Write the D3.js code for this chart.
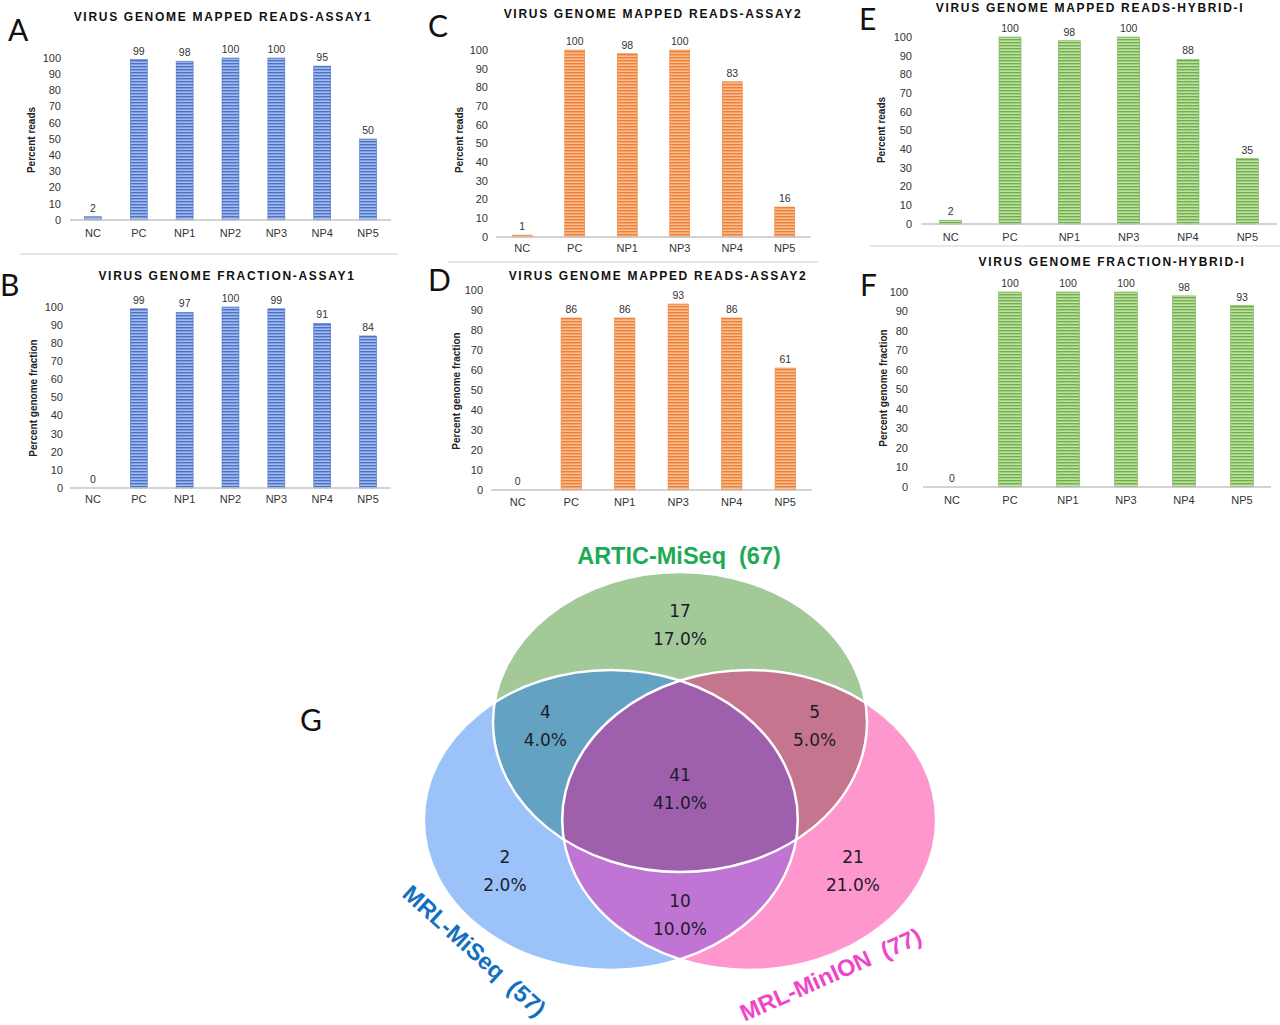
<!DOCTYPE html>
<html>
<head>
<meta charset="utf-8">
<script src="https://cdn.jsdelivr.net/npm/d3@7"></script>
<style>
    body { margin: 0; background: #fff; }
    svg { display: block; font-family: 'Liberation Sans', Arial, sans-serif; }
    .panel-letter { font-family: Lato, 'Open Sans', sans-serif; font-size: 30px; fill: #111; }
    .bar-title { font-weight: bold; font-size: 12px; letter-spacing: 1.7px; fill: #111; }
    .tick-label, .cat-label { font-size: 11px; fill: #333; }
    .value-label { font-size: 10.5px; fill: #333; }
    .y-title { font-weight: bold; font-size: 10px; fill: #222; }
    .venn-num { font-family: 'DejaVu Sans', sans-serif; font-size: 17px; fill: #1c1c2a; }
    .venn-set { font-weight: bold; font-size: 23.5px; }
</style>
</head>
<body>
<div id="wrapper"></div>
<script>
// data
const categoriesAssay1 = ['NC', 'PC', 'NP1', 'NP2', 'NP3', 'NP4', 'NP5']
const categoriesOther = ['NC', 'PC', 'NP1', 'NP3', 'NP4', 'NP5']
const readsAssay1 = [2, 99, 98, 100, 100, 95, 50]
const fractionAssay1 = [0, 99, 97, 100, 99, 91, 84]
const readsAssay2 = [1, 100, 98, 100, 83, 16]
const fractionAssay2 = [0, 86, 86, 93, 86, 61]
const readsHybrid = [2, 100, 98, 100, 88, 35]
const fractionHybrid = [0, 100, 100, 100, 98, 93]
const yTickValues = [0, 10, 20, 30, 40, 50, 60, 70, 80, 90, 100]

const vennSetNames = ['ARTIC-MiSeq', 'MRL-MiSeq', 'MRL-MinION']
const vennSetTotals = [67, 57, 77]
const vennRegionKeys = ['A', 'AB', 'AC', 'ABC', 'B', 'BC', 'C']
const vennRegionCounts = [17, 4, 5, 41, 2, 10, 21]

function drawFigure() {

    const width = 1280
    const height = 1025

    const svg = d3.select('#wrapper')
        .append('svg')
        .attr('width', width)
        .attr('height', height)

    const defs = svg.append('defs')

    //#region stripe patterns (excel-like narrow horizontal)
    const palettes = {
        blue: { fg: '#4a73c8', bg: '#a4b9ec' },
        orange: { fg: '#ee7f33', bg: '#f8bd93' },
        green: { fg: '#72ae49', bg: '#bce2a6' },
    }
    Object.entries(palettes).forEach(([name, p]) => {
        let pat = defs.append('pattern')
            .attr('id', 'stripe-' + name)
            .attr('patternUnits', 'userSpaceOnUse')
            .attr('width', 6).attr('height', 3)
        pat.append('rect').attr('width', 6).attr('height', 3).attr('fill', p.bg)
        pat.append('rect').attr('width', 6).attr('height', 1.4).attr('fill', p.fg)
    })
    //#endregion

    //#region bar panels
    const panels = [
        {
            letter: 'A', letterX: 8, letterY: 41,
            title: 'VIRUS GENOME MAPPED READS-ASSAY1', titleX: 223, titleY: 21,
            cats: categoriesAssay1, values: readsAssay1, color: 'blue',
            x0: 70, x1: 391, yBottom: 220, yTop: 58, pad: 0.63,
            tickX: 61, yTitle: 'Percent reads', yTitleX: 35, yTitleY: 140, catY: 237
        },
        {
            letter: 'B', letterX: 0, letterY: 296,
            title: 'VIRUS GENOME FRACTION-ASSAY1', titleX: 227, titleY: 280,
            cats: categoriesAssay1, values: fractionAssay1, color: 'blue',
            x0: 70, x1: 391, yBottom: 488, yTop: 307, pad: 0.63,
            tickX: 63, yTitle: 'Percent genome fraction', yTitleX: 37, yTitleY: 398, catY: 503
        },
        {
            letter: 'C', letterX: 428, letterY: 37,
            title: 'VIRUS GENOME MAPPED READS-ASSAY2', titleX: 653, titleY: 18,
            cats: categoriesOther, values: readsAssay2, color: 'orange',
            x0: 496, x1: 811, yBottom: 237, yTop: 50, pad: 0.62,
            tickX: 488, yTitle: 'Percent reads', yTitleX: 463, yTitleY: 140, catY: 252
        },
        {
            letter: 'D', letterX: 428, letterY: 291,
            title: 'VIRUS GENOME MAPPED READS-ASSAY2', titleX: 658, titleY: 280,
            cats: categoriesOther, values: fractionAssay2, color: 'orange',
            x0: 491, x1: 812, yBottom: 490, yTop: 290, pad: 0.62,
            tickX: 483, yTitle: 'Percent genome fraction', yTitleX: 460, yTitleY: 391, catY: 506
        },
        {
            letter: 'E', letterX: 859, letterY: 30,
            title: 'VIRUS GENOME MAPPED READS-HYBRID-I', titleX: 1090, titleY: 12,
            cats: categoriesOther, values: readsHybrid, color: 'green',
            x0: 921, x1: 1277, yBottom: 224, yTop: 37, pad: 0.63,
            tickX: 912, yTitle: 'Percent reads', yTitleX: 885, yTitleY: 130, catY: 241
        },
        {
            letter: 'F', letterX: 860, letterY: 296,
            title: 'VIRUS GENOME FRACTION-HYBRID-I', titleX: 1112, titleY: 266,
            cats: categoriesOther, values: fractionHybrid, color: 'green',
            x0: 923, x1: 1271, yBottom: 487, yTop: 292, pad: 0.61,
            tickX: 908, yTitle: 'Percent genome fraction', yTitleX: 887, yTitleY: 388, catY: 504
        },
    ]

    panels.forEach(drawPanel)

    function drawPanel(p) {
        const g = svg.append('g').attr('class', 'panel-' + p.letter)

        const xScale = d3.scaleBand()
            .domain(p.cats)
            .range([p.x0, p.x1])
            .paddingInner(p.pad)
            .paddingOuter(p.pad / 2)

        const yScale = d3.scaleLinear()
            .domain([0, 100])
            .range([p.yBottom, p.yTop])

        const rows = p.cats.map((c, i) => ({ cat: c, value: p.values[i] }))

        g.append('text')
            .attr('class', 'panel-letter')
            .attr('x', p.letterX).attr('y', p.letterY)
            .text(p.letter)

        g.append('text')
            .attr('class', 'bar-title')
            .attr('x', p.titleX).attr('y', p.titleY)
            .attr('text-anchor', 'middle')
            .text(p.title)

        // y tick labels only, no axis line
        g.selectAll('.tick-label')
            .data(yTickValues)
            .enter().append('text')
            .attr('class', 'tick-label')
            .attr('x', p.tickX)
            .attr('y', d => yScale(d))
            .attr('dy', '0.35em')
            .attr('text-anchor', 'end')
            .text(d => d)

        g.append('text')
            .attr('class', 'y-title')
            .attr('transform', `translate(${p.yTitleX},${p.yTitleY}) rotate(-90)`)
            .attr('text-anchor', 'middle')
            .text(p.yTitle)

        g.selectAll('.bar')
            .data(rows)
            .enter().append('rect')
            .attr('class', 'bar')
            .attr('x', d => xScale(d.cat))
            .attr('y', d => yScale(d.value))
            .attr('width', xScale.bandwidth())
            .attr('height', d => yScale(0) - yScale(d.value))
            .attr('fill', `url(#stripe-${p.color})`)
            .attr('stroke', palettes[p.color].fg)
            .attr('stroke-width', d => d.value > 0 ? 0.6 : 0)

        g.append('line')
            .attr('x1', p.x0).attr('x2', p.x1)
            .attr('y1', yScale(0)).attr('y2', yScale(0))
            .attr('stroke', '#c4c4c4')
            .attr('stroke-width', 1.5)

        g.selectAll('.value-label')
            .data(rows)
            .enter().append('text')
            .attr('class', 'value-label')
            .attr('x', d => xScale(d.cat) + xScale.bandwidth() / 2)
            .attr('y', d => yScale(d.value) - 5)
            .attr('text-anchor', 'middle')
            .text(d => d.value)

        g.selectAll('.cat-label')
            .data(p.cats)
            .enter().append('text')
            .attr('class', 'cat-label')
            .attr('x', d => xScale(d) + xScale.bandwidth() / 2)
            .attr('y', p.catY)
            .attr('text-anchor', 'middle')
            .text(d => d)
    }

    // thin separators between the stacked panels
    const separators = [[20, 398, 254], [448, 818, 262], [870, 1280, 246]]
    svg.selectAll('.separator')
        .data(separators)
        .enter().append('line')
        .attr('class', 'separator')
        .attr('x1', d => d[0]).attr('x2', d => d[1])
        .attr('y1', d => d[2]).attr('y2', d => d[2])
        .attr('stroke', '#d0d0d0')
        .attr('stroke-width', 1.2)
    //#endregion

    //#region venn diagram (G)
    const xVenn = d3.scaleLinear().domain([-1, 1]).range([493, 867])
    const yVenn = d3.scaleLinear().domain([-1, 1]).range([637, 937])
    const rx = xVenn(1) - xVenn(0)
    const ry = yVenn(1) - yVenn(0)

    const circleCenters = { A: [0, -0.433], B: [-0.37, 0.22], C: [0.37, 0.22] }
    const regionColors = {
        A: '#a3c999', B: '#9cc3f9', C: '#fe97cd',
        AB: '#63a2c2', AC: '#c6758f', BC: '#c075d4', ABC: '#9e60ac'
    }
    const regionLabelPos = {
        A: [0, -1.08], AB: [-0.72, -0.41], AC: [0.72, -0.41], ABC: [0, 0.013],
        B: [-0.936, 0.56], BC: [0, 0.853], C: [0.925, 0.56]
    }

    const venn = svg.append('g').attr('class', 'venn')

    function addEllipse(sel, key) {
        return sel.append('ellipse')
            .attr('cx', xVenn(circleCenters[key][0]))
            .attr('cy', yVenn(circleCenters[key][1]))
            .attr('rx', rx)
            .attr('ry', ry)
    }

    ;['A', 'B', 'C'].forEach(k => {
        addEllipse(defs.append('clipPath').attr('id', 'clip-' + k), k)
    })

    ;['A', 'B', 'C'].forEach(k => addEllipse(venn, k).attr('fill', regionColors[k]))
    addEllipse(venn.append('g').attr('clip-path', 'url(#clip-A)'), 'B').attr('fill', regionColors.AB)
    addEllipse(venn.append('g').attr('clip-path', 'url(#clip-A)'), 'C').attr('fill', regionColors.AC)
    addEllipse(venn.append('g').attr('clip-path', 'url(#clip-B)'), 'C').attr('fill', regionColors.BC)
    addEllipse(venn.append('g').attr('clip-path', 'url(#clip-A)')
        .append('g').attr('clip-path', 'url(#clip-B)'), 'C').attr('fill', regionColors.ABC)
    ;['A', 'B', 'C'].forEach(k => addEllipse(venn, k)
        .attr('fill', 'none').attr('stroke', '#fff').attr('stroke-width', 2.5))

    const total = d3.sum(vennRegionCounts)
    vennRegionKeys.forEach((k, i) => {
        let [ux, uy] = regionLabelPos[k]
        venn.append('text')
            .attr('class', 'venn-num')
            .attr('x', xVenn(ux)).attr('y', yVenn(uy) - 8)
            .attr('text-anchor', 'middle')
            .text(vennRegionCounts[i])
        venn.append('text')
            .attr('class', 'venn-num')
            .attr('x', xVenn(ux)).attr('y', yVenn(uy) + 20)
            .attr('text-anchor', 'middle')
            .text((vennRegionCounts[i] / total * 100).toFixed(1) + '%')
    })

    const setLabels = [
        { x: 679, y: 564, angle: 0, color: '#1daa55' },
        { x: 469, y: 957, angle: 42, color: '#1270bf' },
        { x: 834, y: 982, angle: -24, color: '#ee45c9' },
    ]
    setLabels.forEach((l, i) => {
        venn.append('text')
            .attr('class', 'venn-set')
            .attr('transform', `translate(${l.x},${l.y}) rotate(${l.angle})`)
            .attr('text-anchor', 'middle')
            .attr('fill', l.color)
            .attr('xml:space', 'preserve')
            .style('white-space', 'pre')
            .text(`${vennSetNames[i]}  (${vennSetTotals[i]})`)
    })

    svg.append('text')
        .attr('class', 'panel-letter')
        .attr('x', 300).attr('y', 731)
        .text('G')
    //#endregion
}

drawFigure()
</script>
</body>
</html>
